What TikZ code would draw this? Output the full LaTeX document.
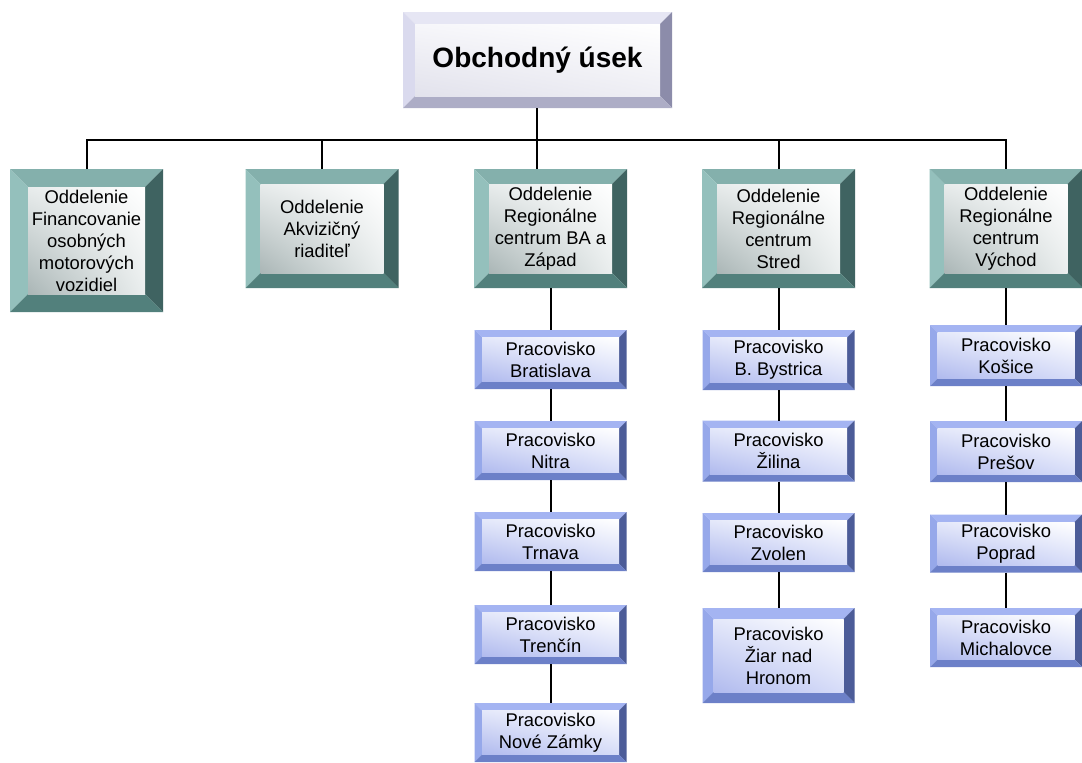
\documentclass[tikz,border=0pt]{standalone}
\usepackage{fontspec}
\setmainfont{Liberation Sans}
\usetikzlibrary{shadings}
\definecolor{lavT}{HTML}{E6E6F4}
\definecolor{lavL}{HTML}{DADAEE}
\definecolor{lavR}{HTML}{8C8CAA}
\definecolor{lavB}{HTML}{ADADC6}
\definecolor{lavUL}{HTML}{F6F6FA}
\definecolor{lavUR}{HTML}{FFFFFF}
\definecolor{lavLL}{HTML}{E2E2EC}
\definecolor{lavLR}{HTML}{EEEEF4}
\definecolor{tealT}{HTML}{84B0AC}
\definecolor{tealL}{HTML}{94C0BC}
\definecolor{tealR}{HTML}{3F6361}
\definecolor{tealB}{HTML}{52807C}
\definecolor{tealUL}{HTML}{E8ECEC}
\definecolor{tealUR}{HTML}{FFFFFF}
\definecolor{tealLL}{HTML}{AAB6B6}
\definecolor{tealLR}{HTML}{EAEEEE}
\definecolor{bluT}{HTML}{A4B4F2}
\definecolor{bluL}{HTML}{96A8EA}
\definecolor{bluR}{HTML}{4C5C98}
\definecolor{bluB}{HTML}{6C80C8}
\definecolor{bluUL}{HTML}{E4E8FA}
\definecolor{bluUR}{HTML}{FFFFFF}
\definecolor{bluLL}{HTML}{B0BAEE}
\definecolor{bluLR}{HTML}{D6DCF8}
\tikzset{
  bev/.store in=\bevsize, bev=10pt,
  ctop/.store in=\cTop, cleft/.store in=\cLeft,
  cright/.store in=\cRight, cbot/.store in=\cBot,
  fUL/.store in=\fUL, fUR/.store in=\fUR,
  fLL/.store in=\fLL, fLR/.store in=\fLR,
  bevelbox/.style={rectangle, inner sep=0pt, outer sep=0pt, align=center, text=black,
    path picture={
      \coordinate (pA) at (path picture bounding box.north west);
      \coordinate (pC) at (path picture bounding box.south east);
      \coordinate (pB) at (pC |- pA);
      \coordinate (pD) at (pA |- pC);
      \coordinate (iA) at ([shift={(\bevsize,-\bevsize)}]pA);
      \coordinate (iB) at ([shift={(-\bevsize,-\bevsize)}]pB);
      \coordinate (iC) at ([shift={(-\bevsize,\bevsize)}]pC);
      \coordinate (iD) at ([shift={(\bevsize,\bevsize)}]pD);
      \fill[fill=\cTop] (pA)--(pB)--(iB)--(iA)--cycle;
      \fill[fill=\cLeft] (pA)--(iA)--(iD)--(pD)--cycle;
      \fill[fill=\cRight] (pB)--(pC)--(iC)--(iB)--cycle;
      \fill[fill=\cBot] (pD)--(iD)--(iC)--(pC)--cycle;
      \shade[upper left=\fUL, upper right=\fUR, lower left=\fLL, lower right=\fLR] (iA) rectangle (iC);
    }},
  topbox/.style={bevelbox, bev=12pt, ctop=lavT, cleft=lavL, cright=lavR, cbot=lavB,
    fUL=lavUL, fUR=lavUR, fLL=lavLL, fLR=lavLR,
    minimum width=269pt, minimum height=96pt, font=\fontsize{28}{32}\selectfont\bfseries},
  deptbox/.style={bevelbox, bev=15pt, ctop=tealT, cleft=tealL, cright=tealR, cbot=tealB,
    fUL=tealUL, fUR=tealUR, fLL=tealLL, fLR=tealLR,
    minimum width=153pt, minimum height=119pt, font=\fontsize{18.4}{22}\selectfont},
  workbox/.style={bevelbox, bev=7.5pt, ctop=bluT, cleft=bluL, cright=bluR, cbot=bluB,
    fUL=bluUL, fUR=bluUR, fLL=bluLL, fLR=bluLR,
    minimum width=152pt, minimum height=59pt, font=\fontsize{18.4}{22}\selectfont},
  link/.style={draw=black, line width=2pt},
}
\begin{document}
\begin{tikzpicture}[x={(1pt,0pt)}, y={(0pt,-1pt)}]
\useasboundingbox (0,0) rectangle (1082,763);

\node[topbox] (top) at (537.5,60) {Obchodný úsek};

\node[deptbox, bev=18pt, minimum height=143pt] (d1) at (86.5,240.5) {Oddelenie\\Financovanie\\osobných\\motorových\\vozidiel};
\node[deptbox] (d2) at (322,228.5) {Oddelenie\\Akvizičný\\riaditeľ};
\node[deptbox] (d3) at (550.5,228.5) {Oddelenie\\Regionálne\\centrum BA a\\Západ};
\node[deptbox] (d4) at (778.5,228.5) {Oddelenie\\Regionálne\\centrum\\Stred};
\node[deptbox] (d5) at (1006,228.5) {Oddelenie\\Regionálne\\centrum\\Východ};

\node[workbox] (w31) at (550.5,359.5) {Pracovisko\\Bratislava};
\node[workbox] (w32) at (550.5,450.5) {Pracovisko\\Nitra};
\node[workbox] (w33) at (550.5,541.5) {Pracovisko\\Trnava};
\node[workbox] (w34) at (550.5,634.5) {Pracovisko\\Trenčín};
\node[workbox] (w35) at (550.5,732.5) {Pracovisko\\Nové Zámky};

\node[workbox, minimum height=60pt] (w41) at (778.5,360) {Pracovisko\\B. Bystrica};
\node[workbox, minimum height=61pt] (w42) at (778.5,451) {Pracovisko\\Žilina};
\node[workbox, minimum height=59pt] (w43) at (778.5,542.5) {Pracovisko\\Zvolen};
\node[workbox, bev=11pt, minimum height=95pt] (w44) at (778.5,655.5) {Pracovisko\\Žiar nad\\Hronom};

\node[workbox, minimum height=61pt] (w51) at (1006,355.5) {Pracovisko\\Košice};
\node[workbox, minimum height=61pt] (w52) at (1006,451.5) {Pracovisko\\Prešov};
\node[workbox, minimum height=58pt] (w53) at (1006,543.5) {Pracovisko\\Poprad};
\node[workbox, minimum height=59pt] (w54) at (1006,637.5) {Pracovisko\\Michalovce};

\coordinate (bus) at (537,140);
\draw[link] (top.south -| bus) -- (d3.north -| bus);
\draw[link] (d1.north) |- (bus) -| (d5.north);
\draw[link] (d2.north) -- (d2.north |- bus);
\draw[link] (d4.north) -- (d4.north |- bus);

\draw[link] (d3.south) -- (w31.north);
\draw[link] (w31) -- (w32);
\draw[link] (w32) -- (w33);
\draw[link] (w33) -- (w34);
\draw[link] (w34) -- (w35);

\draw[link] (d4.south) -- (w41.north);
\draw[link] (w41) -- (w42);
\draw[link] (w42) -- (w43);
\draw[link] (w43) -- (w44);

\draw[link] (d5.south) -- (w51.north);
\draw[link] (w51) -- (w52);
\draw[link] (w52) -- (w53);
\draw[link] (w53) -- (w54);
\end{tikzpicture}
\end{document}
